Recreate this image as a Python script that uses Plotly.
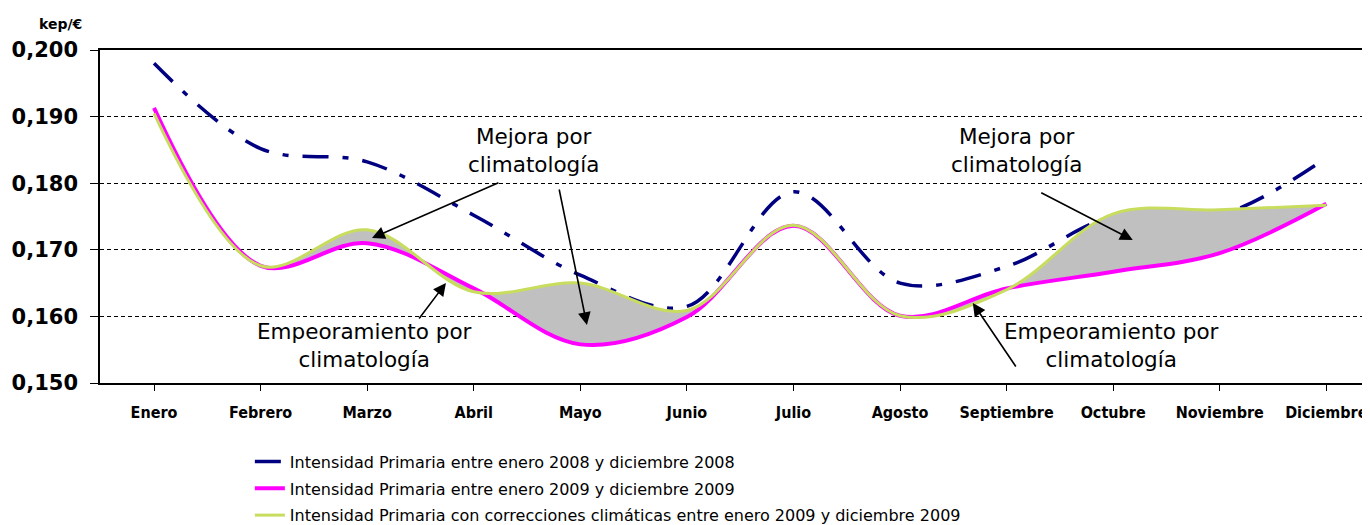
import plotly.graph_objects as go

months = ["Enero", "Febrero", "Marzo", "Abril", "Mayo", "Junio", "Julio",
          "Agosto", "Septiembre", "Octubre", "Noviembre", "Diciembre"]
int_2008 = [0.1980, 0.1852, 0.1832, 0.1752, 0.1662, 0.1615, 0.1787,
            0.1650, 0.1675, 0.1750, 0.1752, 0.1838]
int_2009 = [0.1913, 0.1676, 0.1710, 0.1642, 0.1558, 0.1599, 0.1736,
            0.1601, 0.1642, 0.1667, 0.1695, 0.1769]
int_2009_corr = [0.1905, 0.1676, 0.1730, 0.1637, 0.1650, 0.1609, 0.1737,
                 0.1601, 0.1640, 0.1754, 0.1760, 0.1767]

names = ["Intensidad Primaria entre enero 2008 y diciembre 2008",
         "Intensidad Primaria entre enero 2009 y diciembre 2009",
         "Intensidad Primaria con correcciones climáticas entre enero 2009 y diciembre 2009"]

x = list(range(len(months)))

fig = go.Figure()
fig.add_trace(go.Scatter(
    x=x, y=int_2008, name=names[0], mode="lines", legendgroup="a",
    line=dict(color="#000080", width=3.5, shape="spline", dash="26px,14px,6px,14px")))
fig.add_trace(go.Scatter(
    x=x, y=int_2009, name=names[1], mode="lines", legendgroup="b",
    line=dict(color="#ff00ff", width=4, shape="spline")))
# gray shading between the 2009 and the climate-corrected 2009 curves
fig.add_trace(go.Scatter(
    x=x, y=int_2009_corr, mode="lines", showlegend=False, hoverinfo="skip",
    fill="tonexty", fillcolor="#c0c0c0",
    line=dict(color="rgba(0,0,0,0)", width=0, shape="spline")))
fig.add_trace(go.Scatter(
    x=x, y=int_2009_corr, name=names[2], mode="lines", legendgroup="c",
    line=dict(color="#c8dc5e", width=3, shape="spline")))

ann_font = dict(family="DejaVu Sans", size=21.5, color="black")
texts = [
    (3.560, 0.1849, "Mejora por<br>climatología"),
    (1.979, 0.15565, "Empeoramiento por<br>climatología"),
    (8.090, 0.1849, "Mejora por<br>climatología"),
    (8.980, 0.15565, "Empeoramiento por<br>climatología"),
]
annotations = []
for tx, ty, t in texts:
    annotations.append(dict(x=tx, y=ty, xref="x", yref="y", text=t, showarrow=False,
                            font=ann_font, align="center"))
arrows = [
    (2.045, 0.17177, 3.246, 0.18018),
    (4.062, 0.15871, 3.799, 0.17928),
    (2.739, 0.16502, 2.477, 0.15946),
    (9.184, 0.17147, 8.311, 0.17868),
    (7.683, 0.16201, 8.096, 0.15225),
]
for hx, hy, tx, ty in arrows:
    annotations.append(dict(x=hx, y=hy, ax=tx, ay=ty, xref="x", yref="y",
                            axref="x", ayref="y", text="", showarrow=True,
                            arrowhead=2, arrowsize=1.6, arrowwidth=1.6,
                            arrowcolor="black"))
annotations.append(dict(x=-0.05, y=1.078, xref="paper", yref="paper", text="<b>kep/€</b>",
                        showarrow=False, xanchor="left", yanchor="middle",
                        font=dict(family="DejaVu Sans", size=14, color="black")))

# page body has an 8px margin: figure is sized/offset to compensate
fig.update_layout(
    width=1362, height=517,
    margin=dict(l=92, r=0, t=42, b=142, autoexpand=False),
    plot_bgcolor="white", paper_bgcolor="white",
    separators=",.",
    showlegend=True,
    legend=dict(x=0.118, y=-0.185, xanchor="left", yanchor="top",
                font=dict(family="DejaVu Sans", size=16, color="black"),
                tracegroupgap=3, bgcolor="rgba(0,0,0,0)"),
    annotations=annotations,
)
fig.update_xaxes(
    tickmode="array", tickvals=x, ticktext=months,
    range=[-0.507, 11.41], automargin=False,
    showline=True, linecolor="black", linewidth=1.5, mirror=True,
    ticks="outside", tickson="boundaries", ticklen=6, tickcolor="black",
    ticklabelstandoff=8,
    showgrid=False, zeroline=False,
    tickfont=dict(family="DejaVu Sans Condensed", size=16, color="black", weight="bold"),
)
fig.update_yaxes(
    range=[0.150, 0.200], tickvals=[0.15, 0.16, 0.17, 0.18, 0.19, 0.20],
    tickformat=".3f", automargin=False,
    showline=True, linecolor="black", linewidth=1.5,
    ticks="outside", ticklen=8, tickcolor="black", ticklabelstandoff=8,
    showgrid=True, gridcolor="black", gridwidth=1, griddash="4px,3px",
    zeroline=False,
    tickfont=dict(family="DejaVu Sans", size=21, color="black", weight="bold"),
)

fig.write_html("out.html")
